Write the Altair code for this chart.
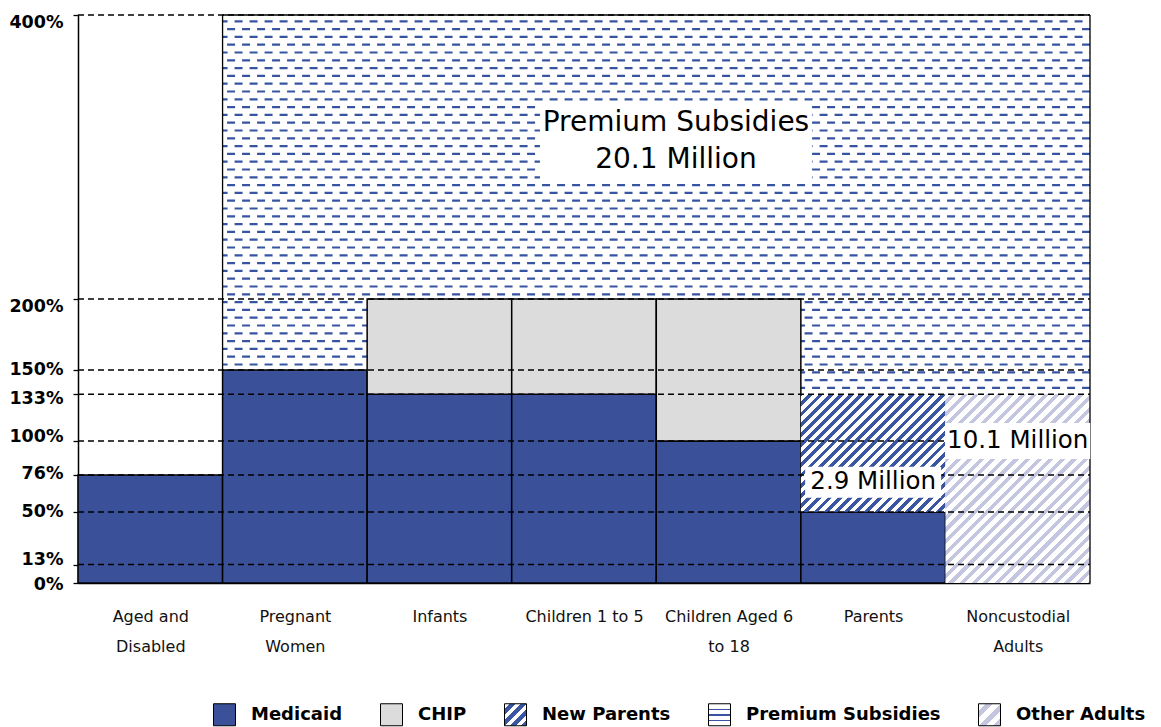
import json
import math

import altair as alt
import pandas as pd

# ---------------------------------------------------------------- data
categories = ["Aged and Disabled", "Pregnant Women", "Infants", "Children 1 to 5",
              "Children Aged 6 to 18", "Parents", "Noncustodial Adults"]
category_lines = [["Aged and", "Disabled"], ["Pregnant", "Women"], ["Infants"],
                  ["Children 1 to 5"], ["Children Aged 6", "to 18"], ["Parents"],
                  ["Noncustodial", "Adults"]]

# upper income limit (% of poverty) of each coverage band, stacked bottom to top
medicaid_top = [76, 150, 133, 133, 100, 50, None]
chip_top = [None, None, 200, 200, 200, None, None]
new_parents_top = [None, None, None, None, None, 133, None]
other_adults_top = [None, None, None, None, None, None, 133]
premium_top = [None, 400, 400, 400, 400, 400, 400]

series_order = ["Medicaid", "CHIP", "New Parents", "Premium Subsidies", "Other Adults"]
threshold_ticks = [0, 13, 50, 76, 100, 133, 150, 200, 400]

annotation_text = ["Premium Subsidies\n20.1 Million", "10.1 Million", "2.9 Million"]
annotation_x = [4.136, 6.5, 5.5]
annotation_y = [311, 100, 71]

# ---------------------------------------------------------------- layout
W, H = 1012, 568          # plot area in pixels
XMAX, YMAX = 7, 400
PX_X = W / XMAX
PX_Y = H / YMAX

MEDICAID = "#3A5199"
CHIP = "#DCDCDC"
HATCH_BLUE = "#3A56A2"
DASH_BLUE = "#3654A2"
LAVENDER = "#C4C6DF"
FONT = "DejaVu Sans"

stack = [("Medicaid", medicaid_top), ("CHIP", chip_top), ("New Parents", new_parents_top),
         ("Other Adults", other_adults_top), ("Premium Subsidies", premium_top)]
rows = []
for i in range(len(categories)):
    lo = 0
    for name, tops in stack:
        top = tops[i]
        if top is not None:
            rows.append({"series": name, "category": categories[i],
                         "x0": i, "x1": i + 1, "lo": lo, "hi": top})
            lo = top
segments = pd.DataFrame(rows)


def stripe_gradient(seg, a, b, period, on_len, on_color, off_color, phase=0.0):
    """Linear gradient giving a periodic stripe pattern f = a*px + b*py that
    stays continuous across neighbouring rectangles (objectBoundingBox units)."""
    x0 = seg["x0"] * PX_X
    w = (seg["x1"] - seg["x0"]) * PX_X
    y0 = (YMAX - seg["hi"]) * PX_Y
    h = (seg["hi"] - seg["lo"]) * PX_Y
    corners = [a * (x0 + cx * w) + b * (y0 + cy * h) for cx in (0, 1) for cy in (0, 1)]
    fmin, fmax = min(corners), max(corners)
    R = fmax - fmin
    A, B = a * w / R, b * h / R
    C = (a * x0 + b * y0 - fmin) / R
    n2 = A * A + B * B
    x1, y1 = -C * A / n2, -C * B / n2
    x2, y2 = x1 + A / n2, y1 + B / n2

    def colour(f):
        return on_color if ((f - phase) % period) < on_len else off_color

    stops = [{"offset": 0, "color": colour(fmin + 1e-6)}]
    k = math.floor((fmin - phase) / period)
    while phase + k * period <= fmax:
        s = phase + k * period
        for e, before, after in ((s, off_color, on_color), (s + on_len, on_color, off_color)):
            if fmin < e < fmax:
                t = round((e - fmin) / R, 5)
                stops.append({"offset": t, "color": before})
                stops.append({"offset": t, "color": after})
        k += 1
    stops.append({"offset": 1, "color": colour(fmax - 1e-6)})
    return {"gradient": "linear", "x1": round(x1, 5), "y1": round(y1, 5),
            "x2": round(x2, 5), "y2": round(y2, 5), "stops": stops}


def swatch(bands, on_color):
    """Small diagonal-striped gradient for a legend swatch."""
    stops = []
    for j in range(bands):
        a, m, b = j / bands, (j + 0.5) / bands, (j + 1) / bands
        stops += [{"offset": round(a, 4), "color": "white"},
                  {"offset": round(m, 4), "color": "white"},
                  {"offset": round(m, 4), "color": on_color},
                  {"offset": round(b, 4), "color": on_color}]
    return {"gradient": "linear", "x1": 0, "y1": 0, "x2": 1, "y2": 1, "stops": stops}


premium_swatch = {"gradient": "linear", "x1": 0, "y1": 0, "x2": 0, "y2": 1,
                  "stops": [{"offset": 0, "color": "white"},
                            {"offset": 0.22, "color": "white"},
                            {"offset": 0.22, "color": DASH_BLUE},
                            {"offset": 0.3, "color": DASH_BLUE},
                            {"offset": 0.3, "color": "white"},
                            {"offset": 0.47, "color": "white"},
                            {"offset": 0.47, "color": DASH_BLUE},
                            {"offset": 0.55, "color": DASH_BLUE},
                            {"offset": 0.55, "color": "white"},
                            {"offset": 0.72, "color": "white"},
                            {"offset": 0.72, "color": DASH_BLUE},
                            {"offset": 0.8, "color": DASH_BLUE},
                            {"offset": 0.8, "color": "white"},
                            {"offset": 1, "color": "white"}]}

colour_range = [MEDICAID, CHIP,
                alt.ExprRef(json.dumps(swatch(4, HATCH_BLUE))),
                alt.ExprRef(json.dumps(premium_swatch)),
                alt.ExprRef(json.dumps(swatch(3, LAVENDER)))]

# ---------------------------------------------------------------- scales / axes
x_scale = alt.Scale(domain=[0, XMAX], nice=False, zero=False)
y_scale = alt.Scale(domain=[0, YMAX], nice=False, zero=True)

x_label_expr = json.dumps(category_lines) + "[floor(datum.value)]"
x_axis = alt.Axis(values=[i + 0.5 for i in range(len(categories))], labelExpr=x_label_expr,
                  title=None, ticks=False, grid=False, domainColor="black", domainWidth=1.5,
                  labelFont=FONT, labelFontSize=16, labelColor="#111111",
                  labelLineHeight=30, labelPadding=25, labelAngle=0,
                  labelFlush=False, labelOverlap=False)

label_shift = {400: 7, 200: 7, 150: -1, 133: 4, 100: -5, 76: -2, 50: -1, 13: -5, 0: 1}
y_axis = alt.Axis(values=threshold_ticks, labelExpr="datum.value + '%'", title=None,
                  grid=False, domainColor="black", domainWidth=1.5,
                  tickColor="black", tickSize=5, tickWidth=1.3,
                  labelFont=FONT, labelFontWeight="bold", labelFontSize=17.5,
                  labelColor="black", labelPadding=10, labelOverlap=False, labelFlush=False,
                  labelOffset={"condition": [{"test": f"datum.value == {v}", "value": s}
                                             for v, s in label_shift.items() if s],
                               "value": 0})


def X(field):
    return alt.X(field, type="quantitative", scale=x_scale, axis=x_axis)


def Y(field):
    return alt.Y(field, type="quantitative", scale=y_scale, axis=y_axis)


layers = []

# premium subsidies: white band, then rows of short staggered dashes across it
prem = segments[segments.series == "Premium Subsidies"]
layers.append(alt.Chart(prem).mark_rect(fill="white", strokeWidth=0)
              .encode(x=X("x0"), x2="x1", y=Y("lo"), y2="hi"))

ROW_P, DASH, GAP = 7.8, 8, 7            # pixel spacing of the dash texture
texture_rows = []
k = 0
while True:
    y_val = YMAX - (6.3 + k * ROW_P) / PX_Y
    if y_val <= prem.lo.min():
        break
    texture_rows.append({"ty": y_val, "tx0": prem.x0.min(), "tx1": prem.x1.max(),
                         "stagger": k % 2})
    k += 1
texture = pd.DataFrame(texture_rows)
for stagger in (0, 1):
    layers.append(
        alt.Chart(texture[texture.stagger == stagger])
        .mark_rule(color=DASH_BLUE, strokeWidth=2.2, strokeDash=[DASH, GAP],
                   strokeDashOffset=stagger * (DASH + GAP) / 2 + 3)
        .encode(x=X("tx0"), x2="tx1", y=Y("ty"))
    )

# solid bands: Medicaid and CHIP (this layer also drives the legend)
solid = segments[segments.series.isin(["Medicaid", "CHIP"])]
layers.append(
    alt.Chart(solid).mark_rect(stroke="black", strokeWidth=1.5).encode(
        x=X("x0"), x2="x1", y=Y("lo"), y2="hi",
        color=alt.Color("series:N",
                        scale=alt.Scale(domain=series_order, range=colour_range),
                        legend=alt.Legend(
                            title=None, orient="none", legendX=135, legendY=688,
                            direction="horizontal", columns=5, symbolType="square",
                            symbolSize=484, symbolStrokeColor="black", symbolStrokeWidth=1,
                            symbolOpacity=1, labelFont=FONT, labelFontWeight="bold",
                            labelFontSize=18, labelColor="black", labelOffset=15,
                            columnPadding=35, labelLimit=400)),
    )
)

# hatched bands
hatches = {"New Parents": (7.2, 3.4, HATCH_BLUE), "Other Adults": (8.2, 3.6, LAVENDER)}
for name, (period, on_len, colour) in hatches.items():
    for idx, seg in segments[segments.series == name].iterrows():
        fill = stripe_gradient(seg, 1 / math.sqrt(2), 1 / math.sqrt(2), period, on_len,
                               colour, "white")
        layers.append(alt.Chart(segments.loc[[idx]]).mark_rect(fill=fill, strokeWidth=0)
                      .encode(x=X("x0"), x2="x1", y=Y("lo"), y2="hi"))

# outline of the premium-subsidy region
first, last = prem.iloc[0], prem.iloc[-1]
outline = pd.DataFrame([
    {"xa": first.x0, "xb": last.x1, "ya": YMAX, "yb": YMAX},
    {"xa": first.x0, "xb": first.x0, "ya": first.lo, "yb": YMAX},
    {"xa": last.x1, "xb": last.x1, "ya": 0, "yb": YMAX},
])
layers.append(alt.Chart(outline).mark_rule(color="black", strokeWidth=1.3)
              .encode(x=X("xa"), x2="xb", y=Y("ya"), y2="yb"))

# dashed threshold lines
grid = pd.DataFrame({"v": [v for v in threshold_ticks if v > 0]})
layers.append(alt.Chart(grid).mark_rule(color="black", strokeWidth=1.5, strokeDash=[6, 4])
              .encode(y=Y("v"), x=alt.datum(0, scale=x_scale, axis=x_axis),
                      x2=alt.datum(XMAX)))

# enrolment annotations on white boxes
box_size = [(272, 77), (145, 36), (136, 31)]
LINE_H = 37
notes = pd.DataFrame({
    "x": annotation_x, "y": annotation_y, "text": annotation_text,
    "shape": [f"M-1,{-h / w:.4f}L1,{-h / w:.4f}L1,{h / w:.4f}L-1,{h / w:.4f}Z"
              for w, h in box_size],
    "area": [w * w for w, h in box_size],
    "size": [28, 24.5, 24.5],
    "lines": [t.count("\n") + 1 for t in annotation_text],
})
layers.append(alt.Chart(notes).mark_point(filled=True, fill="white", opacity=1, strokeWidth=0)
              .encode(x=X("x"), y=Y("y"),
                      shape=alt.Shape("shape:N", scale=None),
                      size=alt.Size("area:Q", scale=None)))
for n_lines in sorted(notes.lines.unique()):
    # lift multi-line text so the block is centred on its anchor
    layers.append(
        alt.Chart(notes[notes.lines == n_lines])
        .mark_text(font=FONT, color="black", align="center", baseline="middle",
                   lineBreak="\n", lineHeight=LINE_H, dy=-(n_lines - 1) * LINE_H / 2)
        .encode(x=X("x"), y=Y("y"), text="text:N", size=alt.Size("size:Q", scale=None))
    )

chart = (
    alt.layer(*layers)
    .properties(width=W, height=H, background="white",
                padding={"left": 78, "top": 15, "right": 71, "bottom": 144},
                autosize=alt.AutoSizeParams(type="none"))
    .configure_view(stroke=None)
)

chart.save("out.html", embed_options={"renderer": "svg", "actions": False})
